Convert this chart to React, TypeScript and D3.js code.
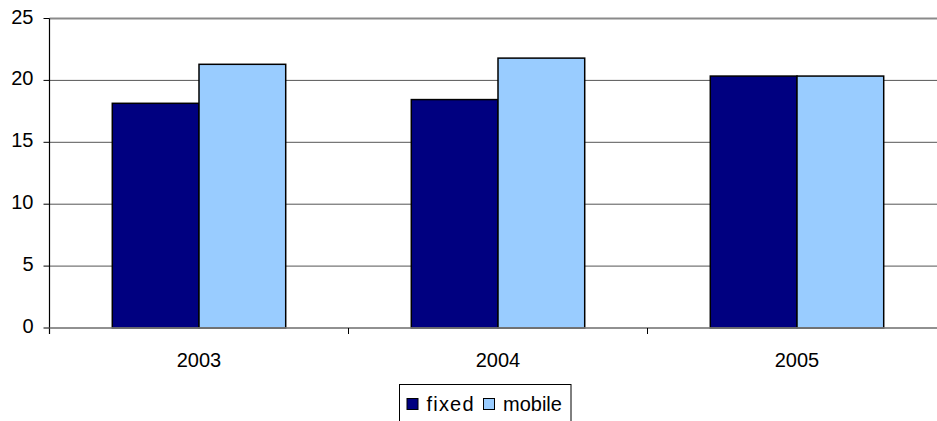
import React from "react";
import * as d3 from "d3";

const years = ["2003", "2004", "2005"];
const seriesNames = ["fixed", "mobile"];
const fixedValues = [18.15, 18.45, 20.35];
const mobileValues = [21.3, 21.8, 20.35];
const yTicks = [0, 5, 10, 15, 20, 25];
const colors = ["#000080", "#99CCFF"];

const W = 937;
const H = 421;
const plot = { left: 49.5, right: 946.5, top: 18.5, bottom: 328 };

export default function App() {
  const x = d3.scaleBand<string>().domain(years).range([plot.left, plot.right]);
  const y = d3.scaleLinear().domain([0, 25]).range([plot.bottom, plot.top]);
  const barW = x.bandwidth() * 0.29;
  const values = [fixedValues, mobileValues];
  const font = "Arial, 'Liberation Sans', sans-serif";

  return (
    <svg
      width={W}
      height={H}
      style={{ position: "absolute", left: 0, top: 0, background: "#fff" }}
      fontFamily={font}
    >
      {/* gridlines */}
      {yTicks.map((t) => (
        <line
          key={`g${t}`}
          x1={plot.left}
          x2={plot.right}
          y1={y(t)}
          y2={y(t)}
          stroke={t === 25 ? "#8a8a8a" : "#555"}
          strokeWidth={t === 25 ? 2 : 1}
        />
      ))}
      {/* bars */}
      {years.map((yr, i) => {
        const cx = (x(yr) as number) + x.bandwidth() / 2;
        return values.map((vals, s) => {
          const x0 = cx - barW + s * barW;
          return (
            <rect
              key={`${yr}-${s}`}
              x={x0}
              y={y(vals[i])}
              width={barW}
              height={y(0) - y(vals[i])}
              fill={colors[s]}
              stroke="#000"
              strokeWidth={1.5}
            />
          );
        });
      })}
      {/* y axis */}
      <line x1={plot.left} x2={plot.left} y1={plot.top} y2={plot.bottom + 6} stroke="#000" strokeWidth={1.2} />
      {yTicks.map((t) => (
        <g key={`t${t}`}>
          <line x1={plot.left - 6} x2={plot.left} y1={y(t)} y2={y(t)} stroke="#000" strokeWidth={1} />
          <text x={33.5} y={y(t) + 5} textAnchor="end" fontSize={20} fill="#000">
            {t}
          </text>
        </g>
      ))}
      {/* x axis */}
      <line x1={plot.left} x2={plot.right} y1={plot.bottom} y2={plot.bottom} stroke="#888" strokeWidth={1.5} />
      {years.map((yr) => (
        <line
          key={`xt${yr}`}
          x1={(x(yr) as number) + x.bandwidth()}
          x2={(x(yr) as number) + x.bandwidth()}
          y1={plot.bottom}
          y2={plot.bottom + 6}
          stroke="#000"
          strokeWidth={1}
        />
      ))}
      {years.map((yr) => (
        <text
          key={`xl${yr}`}
          x={(x(yr) as number) + x.bandwidth() / 2}
          y={366.5}
          textAnchor="middle"
          fontSize={20}
          fill="#000"
        >
          {yr}
        </text>
      ))}
      {/* legend */}
      <rect x={399.5} y={384.5} width={171.5} height={50} fill="#fff" stroke="#000" strokeWidth={1} />
      {seriesNames.map((name, i) => {
        const lx = i === 0 ? 407 : 483.5;
        return (
          <g key={name}>
            <rect x={lx} y={398.5} width={11} height={11} fill={colors[i]} stroke="#000" strokeWidth={1} />
            <text x={i === 0 ? 426.5 : 503} y={410.5} fontSize={20} fill="#000" letterSpacing={i === 0 ? 1.2 : 0}>
              {name}
            </text>
          </g>
        );
      })}
    </svg>
  );
}
